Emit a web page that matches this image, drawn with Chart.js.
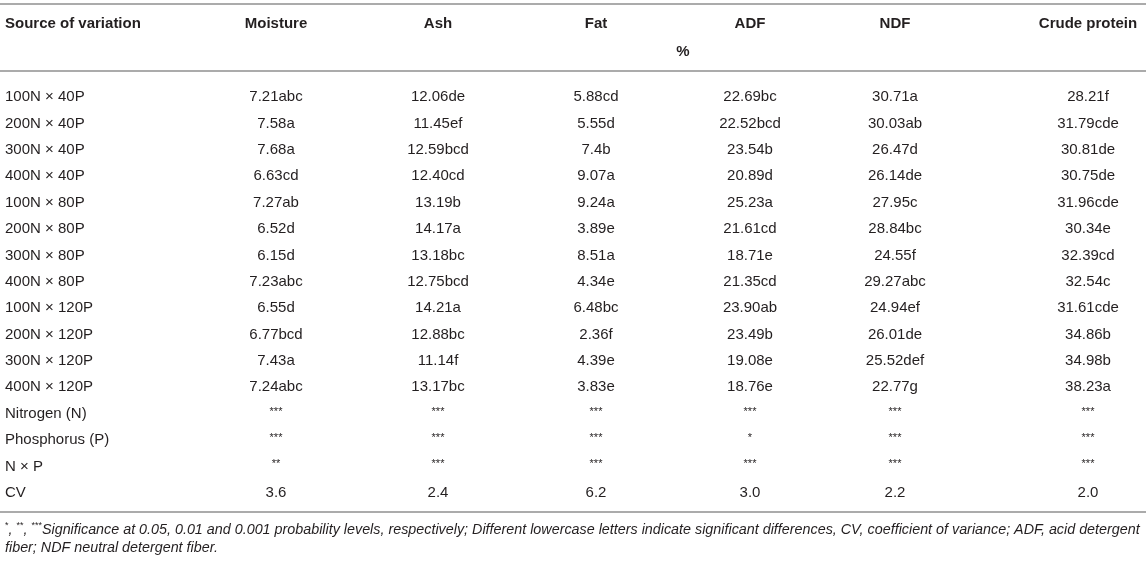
<!DOCTYPE html>
<html>
<head>
<meta charset="utf-8">
<script src="https://cdn.jsdelivr.net/npm/chart.js@4.4.1/dist/chart.umd.min.js"></script>
<style>
html, body { margin: 0; padding: 0; background: #fff; }
#wrap { width: 1146px; height: 563px; position: relative; }
</style>
</head>
<body>
<div id="wrap"><canvas id="table"></canvas></div>
<script>
// rows of the table (y axis categories)
const rows = [
    "100N × 40P", "200N × 40P", "300N × 40P", "400N × 40P",
    "100N × 80P", "200N × 80P", "300N × 80P", "400N × 80P",
    "100N × 120P", "200N × 120P", "300N × 120P", "400N × 120P",
    "Nitrogen (N)", "Phosphorus (P)", "N × P", "CV"
]
const headers = ["Moisture", "Ash", "Fat", "ADF", "NDF", "Crude protein"]
const unitLabel = "%"

const moisture = ["7.21abc", "7.58a", "7.68a", "6.63cd", "7.27ab", "6.52d", "6.15d", "7.23abc", "6.55d", "6.77bcd", "7.43a", "7.24abc", "***", "***", "**", "3.6"]
const ash = ["12.06de", "11.45ef", "12.59bcd", "12.40cd", "13.19b", "14.17a", "13.18bc", "12.75bcd", "14.21a", "12.88bc", "11.14f", "13.17bc", "***", "***", "***", "2.4"]
const fat = ["5.88cd", "5.55d", "7.4b", "9.07a", "9.24a", "3.89e", "8.51a", "4.34e", "6.48bc", "2.36f", "4.39e", "3.83e", "***", "***", "***", "6.2"]
const adf = ["22.69bc", "22.52bcd", "23.54b", "20.89d", "25.23a", "21.61cd", "18.71e", "21.35cd", "23.90ab", "23.49b", "19.08e", "18.76e", "***", "*", "***", "3.0"]
const ndf = ["30.71a", "30.03ab", "26.47d", "26.14de", "27.95c", "28.84bc", "24.55f", "29.27abc", "24.94ef", "26.01de", "25.52def", "22.77g", "***", "***", "***", "2.2"]
const crudeProtein = ["28.21f", "31.79cde", "30.81de", "30.75de", "31.96cde", "30.34e", "32.39cd", "32.54c", "31.61cde", "34.86b", "34.98b", "38.23a", "***", "***", "***", "2.0"]

const noteStars = ["*", "**", "***"]
const noteLine1 = "Significance at 0.05, 0.01 and 0.001 probability levels, respectively; Different lowercase letters indicate significant differences, CV, coefficient of variance; ADF, acid detergent"
const noteLine2 = "fiber; NDF neutral detergent fiber."

const columns = [moisture, ash, fat, adf, ndf, crudeProtein]

// table layout (x scale units), kept apart from the data
const colCenters = [276, 438, 596, 750, 895, 1088]
const unitAt = 683
const FONT = "'Liberation Sans', Arial, sans-serif"
const INK = "#231f20"
const RULE = "#ababab"

const tableCells = {
    id: "tableCells",
    afterDraw(chart) {
        const ctx = chart.ctx
        const x = chart.scales.x
        const y = chart.scales.y
        const area = chart.chartArea
        ctx.save()
        ctx.fillStyle = INK

        // rules
        ctx.strokeStyle = RULE
        ctx.lineWidth = 2
        ;[4, area.top - 13, area.bottom + 6].forEach(function(ly){
            ctx.beginPath()
            ctx.moveTo(0, ly)
            ctx.lineTo(chart.width, ly)
            ctx.stroke()
        })

        // header
        ctx.textBaseline = "middle"
        ctx.font = "bold 15px " + FONT
        ctx.textAlign = "left"
        ctx.fillText("Source of variation", 5, 24)
        ctx.textAlign = "center"
        headers.forEach(function(h, i){
            ctx.fillText(h, x.getPixelForValue(colCenters[i]), 24)
        })
        ctx.fillText(unitLabel, x.getPixelForValue(unitAt), 52)

        // cells
        columns.forEach(function(col, i){
            const cx = x.getPixelForValue(colCenters[i])
            col.forEach(function(v, r){
                const cy = y.getPixelForValue(r)
                if (/^\*+$/.test(v)) {
                    ctx.font = "11px " + FONT
                    ctx.fillText(v, cx, cy - 2)
                } else {
                    ctx.font = "15px " + FONT
                    ctx.fillText(v, cx, cy)
                }
            })
        })

        // footnote
        const ny1 = area.bottom + 24
        const ny2 = area.bottom + 42
        ctx.textAlign = "left"
        let fs = 14
        ctx.font = "italic " + fs + "px " + FONT
        let px = 5
        ctx.font = "9px " + FONT
        const starW = ctx.measureText(noteStars.join("")).width
        ctx.font = "italic " + fs + "px " + FONT
        const rest = ctx.measureText(", , " + noteLine1).width
        fs = fs * (1135 - starW) / rest
        noteStars.forEach(function(s, i){
            ctx.font = "9px " + FONT
            ctx.fillText(s, px, ny1 - 4)
            px += ctx.measureText(s).width
            if (i < noteStars.length - 1) {
                ctx.font = "italic " + fs + "px " + FONT
                ctx.fillText(", ", px, ny1)
                px += ctx.measureText(", ").width
            }
        })
        ctx.font = "italic " + fs + "px " + FONT
        ctx.fillText(noteLine1, px, ny1)
        ctx.fillText(noteLine2, 5, ny2)
        ctx.restore()
    }
}

function main(){
    const canvas = document.getElementById("table")
    new Chart(canvas, {
        type: "scatter",
        data: { labels: rows, datasets: [] },
        options: {
            responsive: true,
            maintainAspectRatio: false,
            animation: false,
            layout: { padding: { left: 5, top: 84, bottom: 57, right: 0 } },
            plugins: { legend: { display: false }, tooltip: { enabled: false } },
            scales: {
                x: { type: "linear", min: 195, max: 1146, display: false },
                y: {
                    type: "category",
                    labels: rows,
                    offset: true,
                    grid: { display: false },
                    border: { display: false },
                    ticks: {
                        crossAlign: "far",
                        autoSkip: false,
                        padding: 0,
                        color: INK,
                        font: { family: FONT, size: 15 }
                    },
                    afterFit(scale) { scale.width = 190 }
                }
            }
        },
        plugins: [tableCells]
    })
}

main()
</script>
</body>
</html>
